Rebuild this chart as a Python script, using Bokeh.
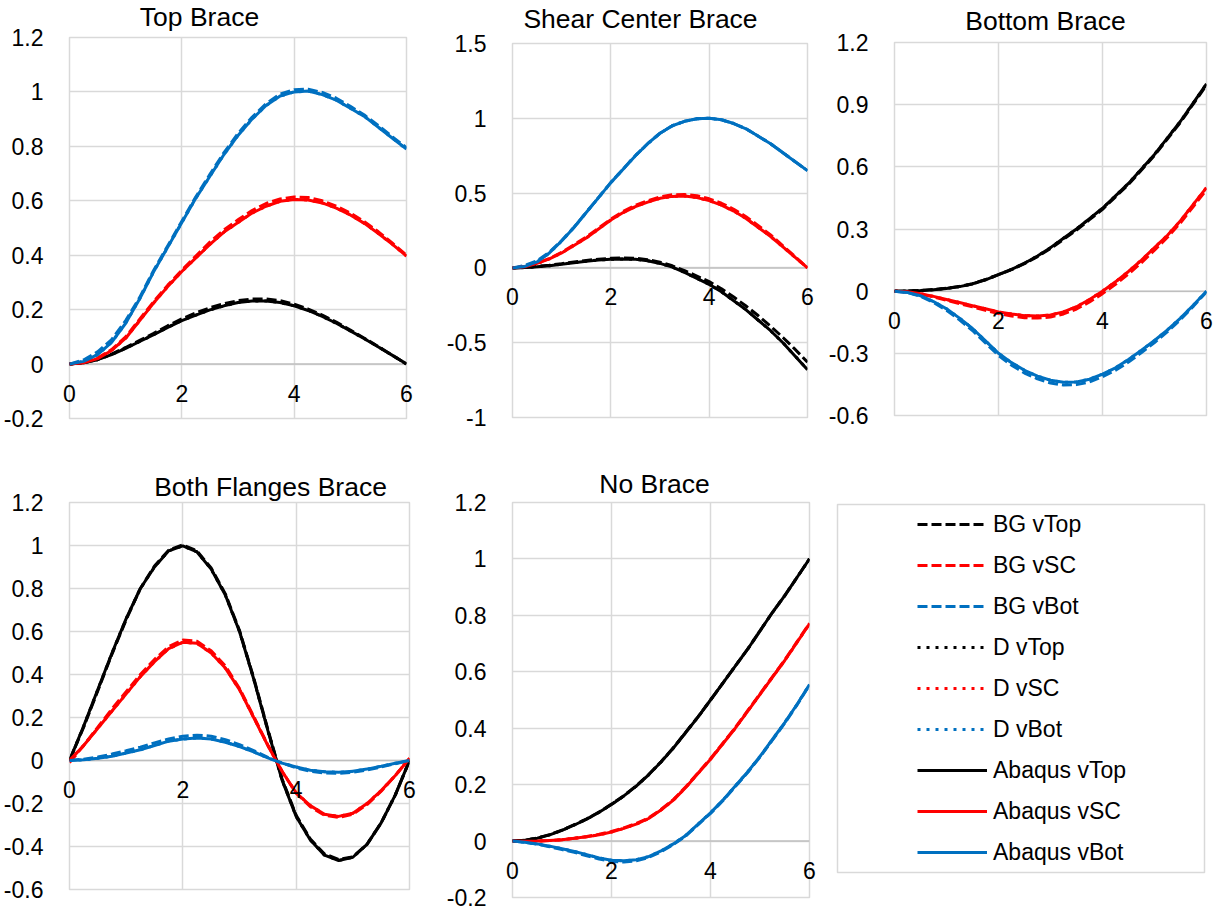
from bokeh.plotting import figure
from bokeh.layouts import column, row
from bokeh.models import (Range1d, FixedTicker, CustomJSTickFormatter, Legend, LegendItem,
                          Label, Span)
from bokeh.embed import file_html
from bokeh.resources import INLINE

# ---------------- data ----------------
x = [0, 0.25, 0.5, 0.75, 1, 1.25, 1.5, 1.75, 2, 2.25, 2.5, 2.75, 3, 3.25, 3.5, 3.75,
     4, 4.25, 4.5, 4.75, 5, 5.25, 5.5, 5.75, 6]
x_ticks = [0, 2, 4, 6]

# Top Brace
top_ab_vtop = [0, 0.005, 0.016, 0.035, 0.058, 0.083, 0.108, 0.135, 0.16, 0.18, 0.199, 0.214, 0.226, 0.232, 0.232, 0.226, 0.214, 0.197, 0.175, 0.15, 0.122, 0.093, 0.063, 0.032, 0]
top_bg_vtop = [0, 0.005, 0.017, 0.037, 0.061, 0.087, 0.113, 0.141, 0.166, 0.188, 0.207, 0.222, 0.233, 0.239, 0.239, 0.233, 0.22, 0.202, 0.18, 0.154, 0.125, 0.095, 0.064, 0.032, 0]
top_ab_vsc = [0, 0.005, 0.02, 0.05, 0.095, 0.16, 0.225, 0.285, 0.34, 0.39, 0.44, 0.485, 0.52, 0.555, 0.58, 0.598, 0.605, 0.603, 0.592, 0.573, 0.548, 0.517, 0.48, 0.44, 0.397]
top_bg_vsc = [0, 0.006, 0.022, 0.053, 0.1, 0.165, 0.23, 0.29, 0.345, 0.397, 0.448, 0.493, 0.53, 0.564, 0.59, 0.607, 0.614, 0.612, 0.6, 0.58, 0.555, 0.523, 0.486, 0.444, 0.4]
top_ab_vbot = [0, 0.01, 0.035, 0.08, 0.15, 0.24, 0.34, 0.43, 0.52, 0.61, 0.69, 0.77, 0.84, 0.9, 0.95, 0.985, 1.0, 1.003, 0.99, 0.97, 0.94, 0.91, 0.87, 0.83, 0.79]
top_bg_vbot = [0, 0.015, 0.045, 0.09, 0.16, 0.245, 0.345, 0.435, 0.525, 0.615, 0.697, 0.777, 0.847, 0.907, 0.957, 0.992, 1.008, 1.01, 0.998, 0.977, 0.947, 0.915, 0.876, 0.835, 0.795]

# Shear Center Brace
sc_ab_vtop = [0, 0.002, 0.008, 0.015, 0.025, 0.035, 0.045, 0.052, 0.058, 0.06, 0.058, 0.048, 0.03, 0.005, -0.03, -0.07, -0.11, -0.16, -0.22, -0.28, -0.35, -0.42, -0.5, -0.59, -0.68]
sc_bg_vtop = [0, 0.003, 0.01, 0.018, 0.028, 0.04, 0.05, 0.058, 0.064, 0.066, 0.064, 0.055, 0.038, 0.014, -0.018, -0.055, -0.092, -0.14, -0.195, -0.255, -0.32, -0.39, -0.465, -0.545, -0.63]
sc_ab_vsc = [0, 0.008, 0.03, 0.06, 0.1, 0.15, 0.2, 0.26, 0.32, 0.37, 0.41, 0.44, 0.465, 0.478, 0.48, 0.47, 0.45, 0.42, 0.38, 0.33, 0.27, 0.21, 0.14, 0.07, 0]
sc_bg_vsc = [0, 0.009, 0.032, 0.063, 0.104, 0.155, 0.206, 0.266, 0.326, 0.377, 0.418, 0.449, 0.475, 0.489, 0.491, 0.482, 0.462, 0.432, 0.392, 0.342, 0.282, 0.22, 0.148, 0.075, 0]
sc_ab_vbot = [0, 0.01, 0.04, 0.1, 0.18, 0.27, 0.37, 0.47, 0.57, 0.66, 0.75, 0.83, 0.9, 0.95, 0.98, 0.997, 1.0, 0.99, 0.965, 0.93, 0.88, 0.83, 0.77, 0.71, 0.65]
sc_bg_vbot = [0, 0.016, 0.048, 0.105, 0.183, 0.272, 0.371, 0.471, 0.571, 0.661, 0.751, 0.831, 0.9, 0.95, 0.98, 0.997, 1.0, 0.99, 0.965, 0.93, 0.88, 0.83, 0.77, 0.71, 0.65]

# Bottom Brace
bot_ab_vtop = [0, 0.001, 0.003, 0.007, 0.013, 0.022, 0.035, 0.055, 0.08, 0.105, 0.135, 0.17, 0.21, 0.255, 0.3, 0.35, 0.4, 0.46, 0.52, 0.59, 0.66, 0.74, 0.82, 0.91, 1.0]
bot_bg_vtop = [0, 0.001, 0.003, 0.008, 0.014, 0.023, 0.036, 0.056, 0.08, 0.104, 0.133, 0.167, 0.206, 0.25, 0.295, 0.345, 0.395, 0.455, 0.515, 0.585, 0.655, 0.735, 0.815, 0.905, 0.995]
bot_ab_vsc = [0, -0.003, -0.012, -0.025, -0.04, -0.055, -0.07, -0.085, -0.1, -0.11, -0.118, -0.12, -0.115, -0.1, -0.075, -0.04, 0, 0.045, 0.095, 0.15, 0.21, 0.27, 0.34, 0.42, 0.5]
bot_bg_vsc = [0, -0.004, -0.014, -0.028, -0.044, -0.06, -0.076, -0.092, -0.108, -0.12, -0.128, -0.13, -0.125, -0.11, -0.086, -0.052, -0.012, 0.033, 0.083, 0.138, 0.198, 0.26, 0.33, 0.41, 0.49]
bot_ab_vbot = [0, -0.006, -0.022, -0.05, -0.085, -0.13, -0.18, -0.24, -0.3, -0.345, -0.382, -0.41, -0.43, -0.44, -0.438, -0.425, -0.4, -0.37, -0.33, -0.285, -0.238, -0.187, -0.13, -0.067, 0]
bot_bg_vbot = [0, -0.007, -0.025, -0.055, -0.092, -0.138, -0.19, -0.25, -0.31, -0.357, -0.395, -0.423, -0.443, -0.453, -0.451, -0.438, -0.413, -0.382, -0.342, -0.296, -0.248, -0.195, -0.137, -0.072, -0.003]

# Both Flanges Brace
bf_ab_vtop = [0, 0.16, 0.33, 0.5, 0.66, 0.8, 0.9, 0.975, 0.998, 0.97, 0.89, 0.77, 0.6, 0.38, 0.14, -0.09, -0.26, -0.37, -0.44, -0.465, -0.45, -0.39, -0.29, -0.16, 0]
bf_bg_vtop = [0, 0.155, 0.325, 0.495, 0.655, 0.8, 0.905, 0.978, 1.003, 0.975, 0.895, 0.775, 0.605, 0.385, 0.145, -0.085, -0.255, -0.365, -0.435, -0.46, -0.448, -0.39, -0.29, -0.16, 0]
bf_ab_vsc = [0, 0.07, 0.15, 0.23, 0.31, 0.39, 0.46, 0.52, 0.55, 0.545, 0.5, 0.43, 0.33, 0.2, 0.07, -0.05, -0.15, -0.21, -0.25, -0.26, -0.245, -0.2, -0.14, -0.07, 0.01]
bf_bg_vsc = [-0.01, 0.07, 0.155, 0.24, 0.32, 0.4, 0.47, 0.53, 0.56, 0.555, 0.51, 0.44, 0.335, 0.205, 0.072, -0.05, -0.152, -0.215, -0.255, -0.265, -0.25, -0.205, -0.143, -0.07, 0.01]
bf_ab_vbot = [0, 0.003, 0.01, 0.02, 0.035, 0.05, 0.07, 0.09, 0.1, 0.105, 0.1, 0.085, 0.065, 0.04, 0.012, -0.012, -0.03, -0.045, -0.052, -0.055, -0.05, -0.04, -0.027, -0.013, 0]
bf_bg_vbot = [0, 0.006, 0.016, 0.03, 0.045, 0.062, 0.082, 0.1, 0.113, 0.118, 0.113, 0.097, 0.074, 0.046, 0.015, -0.012, -0.034, -0.05, -0.058, -0.06, -0.055, -0.044, -0.03, -0.015, 0]

# No Brace
nb_ab_vtop = [0, 0.003, 0.01, 0.022, 0.038, 0.057, 0.078, 0.102, 0.13, 0.16, 0.195, 0.235, 0.28, 0.33, 0.385, 0.44, 0.5, 0.56, 0.62, 0.68, 0.745, 0.81, 0.87, 0.935, 1.0]
nb_bg_vtop = [0, 0.003, 0.011, 0.023, 0.039, 0.058, 0.079, 0.103, 0.131, 0.161, 0.196, 0.236, 0.281, 0.331, 0.386, 0.441, 0.5, 0.56, 0.62, 0.68, 0.745, 0.81, 0.87, 0.935, 1.0]
nb_ab_vsc = [0, -0.001, 0, 0.002, 0.005, 0.01, 0.015, 0.022, 0.032, 0.045, 0.06, 0.08, 0.11, 0.145, 0.19, 0.24, 0.29, 0.345, 0.4, 0.46, 0.52, 0.58, 0.64, 0.705, 0.77]
nb_bg_vsc = [0, -0.001, 0, 0.002, 0.005, 0.01, 0.016, 0.024, 0.034, 0.047, 0.062, 0.082, 0.112, 0.147, 0.192, 0.242, 0.292, 0.347, 0.402, 0.462, 0.522, 0.582, 0.642, 0.707, 0.772]
nb_ab_vbot = [0, -0.004, -0.01, -0.018, -0.027, -0.037, -0.048, -0.06, -0.068, -0.07, -0.066, -0.055, -0.035, -0.01, 0.02, 0.06, 0.1, 0.145, 0.195, 0.245, 0.3, 0.36, 0.42, 0.485, 0.555]
nb_bg_vbot = [0, -0.004, -0.011, -0.02, -0.03, -0.04, -0.052, -0.064, -0.072, -0.074, -0.07, -0.058, -0.038, -0.012, 0.018, 0.058, 0.098, 0.143, 0.193, 0.243, 0.298, 0.358, 0.418, 0.483, 0.553]

# D series (hidden underneath the Abaqus curves in the reference)
top_d_vtop, top_d_vsc, top_d_vbot = top_ab_vtop, top_ab_vsc, top_ab_vbot
sc_d_vtop, sc_d_vsc, sc_d_vbot = sc_ab_vtop, sc_ab_vsc, sc_ab_vbot
bot_d_vtop, bot_d_vsc, bot_d_vbot = bot_ab_vtop, bot_ab_vsc, bot_ab_vbot
bf_d_vtop, bf_d_vsc, bf_d_vbot = bf_ab_vtop, bf_ab_vsc, bf_ab_vbot
nb_d_vtop, nb_d_vsc, nb_d_vbot = nb_ab_vtop, nb_ab_vsc, nb_ab_vbot

top_yticks = [-0.2, 0, 0.2, 0.4, 0.6, 0.8, 1, 1.2]
sc_yticks = [-1, -0.5, 0, 0.5, 1, 1.5]
bot_yticks = [-0.6, -0.3, 0, 0.3, 0.6, 0.9, 1.2]
bf_yticks = [-0.6, -0.4, -0.2, 0, 0.2, 0.4, 0.6, 0.8, 1, 1.2]
nb_yticks = [-0.2, 0, 0.2, 0.4, 0.6, 0.8, 1, 1.2]

series_names = ["BG vTop", "BG vSC", "BG vBot", "D vTop", "D vSC", "D vBot",
                "Abaqus vTop", "Abaqus vSC", "Abaqus vBot"]

# ---------------- style ----------------
FONT = "Liberation Sans"
BLACK, RED, BLUE = "#000000", "#FF0000", "#0070C0"
GRID = "#D9D9D9"
ZERO = "#BFBFBF"
COLORS = [BLACK, RED, BLUE] * 3
DASHES = ["10 4"] * 3 + ["3 6"] * 3 + ["solid"] * 3
LW = 3


def make_panel(title, curves, yticks, w, h, bl, br, bt, bb, tx, ty):
    p = figure(width=w, height=h, output_backend="svg", toolbar_location=None,
               x_range=Range1d(x_ticks[0], x_ticks[-1]),
               y_range=Range1d(yticks[0], yticks[-1]),
               min_border_left=bl, min_border_right=br,
               min_border_top=bt, min_border_bottom=bb, title=None)
    fh = h - bt - bb

    for ys, c, d in zip(curves, COLORS, DASHES):
        p.line(x, ys, line_color=c, line_width=LW, line_dash=d)

    # horizontal zero axis line
    p.add_layout(Span(location=0, dimension="width", line_color=ZERO, line_width=1.5,
                      level="underlay"))

    fmt = "return tick.toString()"
    p.xaxis.ticker = FixedTicker(ticks=x_ticks)
    p.yaxis.ticker = FixedTicker(ticks=yticks)
    p.xaxis.formatter = CustomJSTickFormatter(code=fmt)
    p.yaxis.formatter = CustomJSTickFormatter(code=fmt)
    for ax in (p.xaxis, p.yaxis):
        ax.major_tick_line_color = None
        ax.minor_tick_line_color = None
        ax.axis_line_color = None
        ax.major_label_text_font = FONT
        ax.major_label_text_font_size = "23px"
        ax.major_label_text_color = "#000000"
    # x tick labels sit just under the zero line (Excel style)
    zero_from_bottom = fh * (0 - yticks[0]) / (yticks[-1] - yticks[0])
    p.xaxis.major_label_standoff = int(round(-zero_from_bottom + 14))
    p.yaxis.major_label_standoff = 20

    p.xgrid.ticker = FixedTicker(ticks=x_ticks)
    p.ygrid.ticker = FixedTicker(ticks=yticks)
    p.grid.grid_line_color = GRID
    p.grid.grid_line_width = 1.5
    p.outline_line_color = GRID
    p.outline_line_width = 1.5
    p.background_fill_color = "white"
    p.border_fill_color = "white"

    # chart title, placed in the area above the plot frame
    p.add_layout(Label(x=tx, y=ty, x_units="screen", y_units="screen", text=title,
                       text_align="center", text_baseline="alphabetic",
                       text_font=FONT, text_font_size="26.5px", text_color="#000000"),
                 "above")
    return p


p1 = make_panel("Top Brace",
                [top_bg_vtop, top_bg_vsc, top_bg_vbot, top_d_vtop, top_d_vsc, top_d_vbot,
                 top_ab_vtop, top_ab_vsc, top_ab_vbot],
                top_yticks, 440, 450, 68, 34, 37, 32, 130, 21)
p2 = make_panel("Shear Center Brace",
                [sc_bg_vtop, sc_bg_vsc, sc_bg_vbot, sc_d_vtop, sc_d_vsc, sc_d_vbot,
                 sc_ab_vtop, sc_ab_vsc, sc_ab_vbot],
                sc_yticks, 385, 450, 72, 18, 43, 33, 128, 25)
p3 = make_panel("Bottom Brace",
                [bot_bg_vtop, bot_bg_vsc, bot_bg_vbot, bot_d_vtop, bot_d_vsc, bot_d_vbot,
                 bot_ab_vtop, bot_ab_vsc, bot_ab_vbot],
                bot_yticks, 390, 450, 68, 9, 42, 35, 151, 22)
p4 = make_panel("Both Flanges Brace",
                [bf_bg_vtop, bf_bg_vsc, bf_bg_vbot, bf_d_vtop, bf_d_vsc, bf_d_vbot,
                 bf_ab_vtop, bf_ab_vsc, bf_ab_vbot],
                bf_yticks, 440, 461, 68, 31, 52, 22, 201, 16)
p5 = make_panel("No Brace",
                [nb_bg_vtop, nb_bg_vsc, nb_bg_vbot, nb_d_vtop, nb_d_vsc, nb_d_vbot,
                 nb_ab_vtop, nb_ab_vsc, nb_ab_vbot],
                nb_yticks, 385, 461, 72, 16, 52, 14, 142, 19)

# ---------------- legend panel ----------------
pl = figure(width=390, height=461, output_backend="svg", toolbar_location=None,
            x_range=Range1d(0, 1), y_range=Range1d(0, 1), title=None,
            min_border_left=12, min_border_right=11, min_border_top=54, min_border_bottom=39)
pl.axis.visible = False
pl.grid.visible = False
pl.outline_line_color = GRID
pl.outline_line_width = 1.5
nan = float("nan")
items = []
for name, c, d in zip(series_names, COLORS, DASHES):
    r = pl.line(x=[nan], y=[nan], line_color=c, line_width=LW, line_dash=d)
    items.append(LegendItem(label=name, renderers=[r]))
leg = Legend(items=items, location=(80, 0), padding=0, spacing=1, margin=0,
             glyph_width=70, glyph_height=40, label_height=40, label_standoff=6,
             label_text_font=FONT, label_text_font_size="23px", label_text_color="#000000",
             border_line_color=None, background_fill_alpha=0)
pl.add_layout(leg, "center")

# wrap each plot separately so the row does not align their frames
layout = column(row(column(p1), column(p2), column(p3)),
                row(column(p4), column(p5), column(pl)))
open("out.html", "w").write(file_html(layout, INLINE))
